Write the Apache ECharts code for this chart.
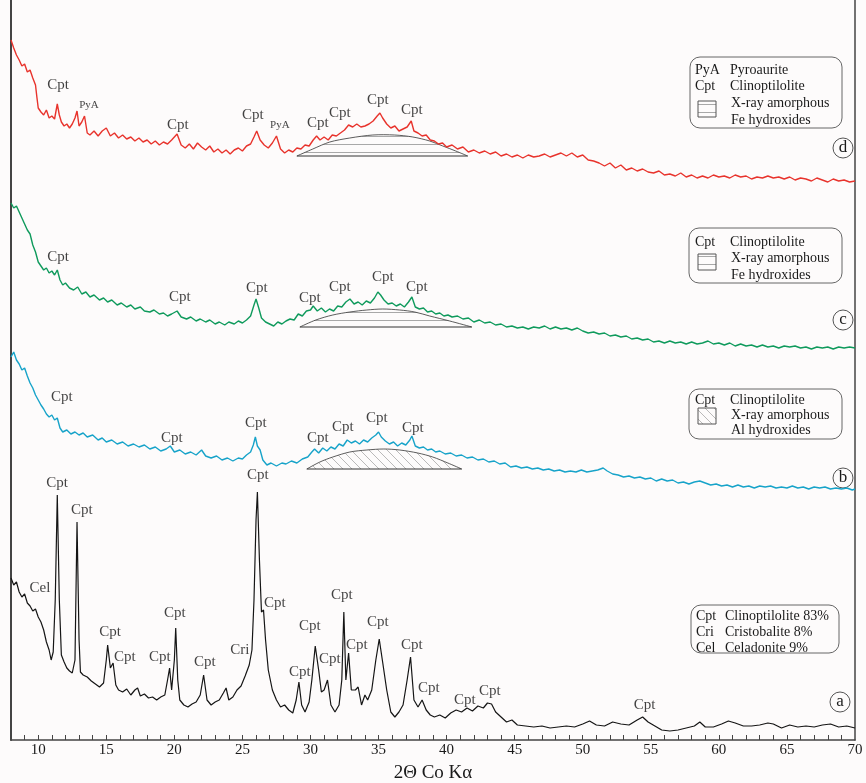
<!DOCTYPE html>
<html><head><meta charset="utf-8">
<script src="https://cdn.jsdelivr.net/npm/echarts@6/dist/echarts.min.js"></script>
<style>html,body{margin:0;padding:0;background:#fdfbfb}#c{width:866px;height:783px}</style>
</head><body><div id="c"></div>
<script>
// ---- Data (2θ, intensity in arbitrary stacked units) ----
const xTickLabels = [10,15,20,25,30,35,40,45,50,55,60,65,70];
const xTickMarks = [9,10,11,12,13,14,15,16,17,18,19,20,21,22,23,24,25,26,27,28,29,30,31,32,33,34,35,36,37,38,39,40,41,42,43,44,45,46,47,48,49,50,51,52,53,54,55,56,57,58,59,60,61,62,63,64,65,66,67,68,69];

// (a) original zeolite – black
const traceA = [[8.0,162],[8.2,155],[8.4,158],[8.6,148],[8.8,143],[9.0,146],[9.2,137],[9.4,134],[9.6,129],[9.8,131],[10.0,123],[10.2,118],[10.4,110],[10.6,98],[10.8,90],[10.95,80],[11.1,88],[11.25,140],[11.4,245],[11.55,140],[11.7,85],[11.9,78],[12.1,72],[12.3,69],[12.5,67],[12.7,80],[12.85,218],[13.0,100],[13.1,68],[13.3,65],[13.6,63],[13.9,59],[14.2,56],[14.5,53],[14.8,57],[15.0,80],[15.1,95],[15.3,72],[15.5,77],[15.7,55],[15.9,50],[16.2,48],[16.5,51],[16.8,45],[17.1,50],[17.3,52],[17.5,44],[17.8,46],[18.1,42],[18.4,43],[18.7,40],[19.0,43],[19.3,45],[19.5,60],[19.65,72],[19.8,50],[20.0,80],[20.1,112],[20.25,60],[20.4,40],[20.7,35],[21.0,33],[21.3,36],[21.6,38],[21.9,45],[22.15,65],[22.4,40],[22.7,35],[23.0,38],[23.3,40],[23.6,47],[23.8,52],[24.0,40],[24.3,43],[24.6,50],[24.9,54],[25.2,64],[25.5,75],[25.7,90],[25.85,140],[26.0,220],[26.1,248],[26.25,180],[26.4,128],[26.55,130],[26.7,100],[26.9,70],[27.2,50],[27.5,40],[27.8,33],[28.1,35],[28.4,30],[28.7,27],[28.95,40],[29.15,58],[29.35,35],[29.6,28],[29.9,38],[30.1,60],[30.35,94],[30.6,70],[30.8,48],[31.0,50],[31.25,60],[31.5,35],[31.8,28],[32.1,35],[32.3,60],[32.45,128],[32.6,60],[32.8,87],[33.0,50],[33.3,50],[33.5,53],[33.75,35],[34.0,45],[34.2,40],[34.5,50],[34.8,80],[35.05,101],[35.3,78],[35.6,50],[35.9,28],[36.2,23],[36.5,28],[36.8,35],[37.1,60],[37.35,83],[37.6,40],[37.9,33],[38.2,40],[38.5,30],[38.8,25],[39.1,23],[39.5,25],[39.9,22],[40.3,27],[40.7,30],[41.1,28],[41.5,32],[41.9,29],[42.3,34],[42.7,32],[43.0,37],[43.3,36],[43.6,28],[44.0,23],[44.4,18],[44.8,20],[45.2,15],[45.8,14],[46.4,13],[47.0,14],[47.6,12],[48.2,13],[48.8,14],[49.4,13],[50.0,16],[50.5,19],[51.0,15],[51.6,14],[52.2,18],[52.8,16],[53.4,15],[54.0,20],[54.4,23],[54.8,18],[55.3,14],[55.8,10],[56.4,9],[57.0,10],[57.6,12],[58.2,14],[58.6,18],[59.0,13],[59.6,13],[60.2,16],[60.7,19],[61.2,17],[61.8,14],[62.4,14],[63.0,15],[63.6,17],[64.0,16],[64.6,12],[65.2,15],[65.8,13],[66.4,14],[67.0,13],[67.6,15],[68.2,16],[68.8,13],[69.4,14],[70.0,12]];

// (b) cyan
const traceB = [[8.0,383],[8.2,388],[8.4,380],[8.6,376],[8.8,370],[9.0,372],[9.2,364],[9.4,357],[9.6,352],[9.8,345],[10.0,340],[10.2,335],[10.4,331],[10.6,326],[10.8,323],[11.0,325],[11.2,320],[11.4,322],[11.6,312],[11.8,308],[12.1,310],[12.4,306],[12.7,308],[13.0,305],[13.3,307],[13.6,303],[14.0,305],[14.4,300],[14.7,302],[15.0,298],[15.4,300],[15.8,296],[16.2,298],[16.6,294],[17.0,296],[17.4,293],[17.8,295],[18.2,291],[18.6,293],[19.0,289],[19.4,291],[19.7,294],[20.0,288],[20.4,290],[20.8,286],[21.2,288],[21.6,285],[22.0,290],[22.3,284],[22.7,282],[23.1,284],[23.5,280],[23.9,282],[24.3,279],[24.7,282],[25.0,281],[25.3,285],[25.6,288],[25.8,295],[25.95,303],[26.1,294],[26.3,290],[26.5,280],[26.8,275],[27.1,277],[27.5,274],[27.9,277],[28.2,276],[28.6,279],[29.0,277],[29.4,281],[29.8,283],[30.1,288],[30.3,291],[30.6,287],[30.9,292],[31.2,289],[31.5,293],[31.8,291],[32.1,296],[32.4,294],[32.7,300],[33.0,297],[33.3,299],[33.6,296],[33.9,300],[34.2,298],[34.5,302],[34.8,305],[35.0,308],[35.2,303],[35.5,299],[35.8,296],[36.1,298],[36.4,294],[36.7,297],[37.0,295],[37.3,300],[37.45,304],[37.7,294],[38.0,292],[38.3,293],[38.6,290],[38.9,291],[39.2,288],[39.5,289],[39.9,286],[40.3,287],[40.7,284],[41.1,285],[41.5,282],[41.9,283],[42.3,280],[42.7,281],[43.1,278],[43.5,279],[43.9,276],[44.3,277],[44.7,273],[45.1,274],[45.5,272],[45.9,273],[46.3,271],[46.7,272],[47.1,270],[47.5,271],[47.9,269],[48.3,270],[48.7,268],[49.1,269],[49.5,268],[49.9,270],[50.3,268],[50.7,269],[51.1,270],[51.5,272],[51.8,269],[52.2,266],[52.6,265],[53.0,263],[53.4,264],[53.8,262],[54.2,263],[54.6,261],[55.0,262],[55.4,259],[55.8,261],[56.2,259],[56.6,260],[57.0,257],[57.4,258],[57.8,256],[58.2,258],[58.6,259],[59.0,257],[59.4,255],[59.8,256],[60.2,254],[60.6,255],[61.0,253],[61.4,255],[61.8,253],[62.2,254],[62.6,252],[63.0,254],[63.4,253],[63.8,254],[64.2,252],[64.6,253],[65.0,252],[65.4,254],[65.8,252],[66.2,253],[66.6,251],[67.0,253],[67.4,252],[67.8,253],[68.2,251],[68.6,252],[69.0,251],[69.4,252],[69.8,250],[70.0,251]];

// (c) green
const traceC = [[8.0,537],[8.2,532],[8.4,534],[8.6,528],[8.8,522],[9.0,516],[9.2,510],[9.4,506],[9.6,495],[9.8,488],[10.0,478],[10.2,474],[10.4,470],[10.6,472],[10.8,467],[11.0,469],[11.2,465],[11.4,470],[11.6,460],[11.8,455],[12.0,457],[12.3,452],[12.6,450],[12.9,453],[13.2,446],[13.5,448],[13.8,443],[14.1,445],[14.5,440],[14.8,442],[15.1,438],[15.4,440],[15.8,435],[16.1,437],[16.5,433],[16.8,435],[17.1,431],[17.5,433],[17.8,429],[18.2,428],[18.5,430],[18.9,426],[19.2,427],[19.5,424],[19.8,426],[20.2,429],[20.5,423],[20.9,421],[21.2,423],[21.6,419],[21.9,421],[22.3,418],[22.6,420],[23.0,416],[23.3,418],[23.7,415],[24.0,418],[24.4,416],[24.7,419],[25.0,417],[25.3,420],[25.6,424],[25.85,435],[26.0,441],[26.2,432],[26.4,422],[26.7,418],[27.0,416],[27.3,414],[27.6,418],[27.9,416],[28.2,419],[28.5,421],[28.8,420],[29.1,426],[29.4,424],[29.7,429],[30.0,430],[30.2,434],[30.5,429],[30.8,432],[31.1,428],[31.4,431],[31.7,429],[32.0,434],[32.3,433],[32.6,438],[32.9,441],[33.2,436],[33.5,438],[33.8,435],[34.1,439],[34.4,437],[34.7,442],[34.95,448],[35.15,445],[35.4,440],[35.7,436],[36.0,437],[36.3,434],[36.6,436],[36.9,433],[37.2,438],[37.45,443],[37.7,433],[38.0,431],[38.3,432],[38.6,428],[38.9,429],[39.2,426],[39.5,427],[39.8,424],[40.1,425],[40.4,423],[40.8,424],[41.2,421],[41.6,422],[42.0,418],[42.4,420],[42.8,417],[43.2,418],[43.6,415],[44.0,416],[44.4,413],[44.8,414],[45.2,412],[45.6,413],[46.0,411],[46.4,413],[46.8,412],[47.2,414],[47.6,411],[48.0,413],[48.4,411],[48.8,412],[49.2,410],[49.6,412],[50.0,409],[50.4,407],[50.8,408],[51.2,406],[51.6,407],[52.0,404],[52.4,405],[52.8,403],[53.2,404],[53.6,401],[54.0,402],[54.4,400],[54.8,401],[55.2,398],[55.6,399],[56.0,397],[56.4,399],[56.8,397],[57.2,398],[57.6,396],[58.0,398],[58.4,396],[58.8,397],[59.2,399],[59.6,396],[60.0,397],[60.4,395],[60.8,397],[61.2,394],[61.6,396],[62.0,394],[62.4,395],[62.8,393],[63.2,395],[63.6,393],[64.0,394],[64.4,392],[64.8,394],[65.2,393],[65.6,394],[66.0,392],[66.4,393],[66.8,391],[67.2,393],[67.6,392],[68.0,393],[68.4,391],[68.8,393],[69.2,392],[69.6,393],[70.0,392]];

// (d) red
const traceD = [[8.0,700],[8.2,692],[8.4,685],[8.6,680],[8.8,674],[9.0,676],[9.2,668],[9.4,670],[9.6,662],[9.8,655],[9.9,643],[10.0,632],[10.2,628],[10.4,625],[10.6,630],[10.8,622],[11.0,624],[11.2,621],[11.4,636],[11.55,625],[11.7,618],[11.9,614],[12.1,616],[12.3,612],[12.5,616],[12.7,622],[12.85,629],[13.0,614],[13.2,618],[13.4,624],[13.6,607],[13.8,605],[14.1,609],[14.4,604],[14.7,609],[15.0,612],[15.3,604],[15.6,607],[15.9,602],[16.2,605],[16.5,601],[16.8,603],[17.1,599],[17.4,602],[17.7,598],[18.0,600],[18.3,596],[18.6,599],[18.9,595],[19.2,598],[19.5,596],[19.8,600],[20.2,606],[20.5,595],[20.8,592],[21.1,596],[21.4,591],[21.7,597],[22.0,593],[22.3,590],[22.6,594],[22.9,588],[23.2,591],[23.5,587],[23.8,590],[24.1,586],[24.4,590],[24.7,592],[25.0,589],[25.3,594],[25.6,596],[25.85,603],[26.05,609],[26.3,600],[26.6,595],[26.9,592],[27.2,597],[27.5,604],[27.8,591],[28.1,587],[28.4,590],[28.7,588],[29.0,592],[29.3,591],[29.6,595],[29.9,594],[30.2,600],[30.45,604],[30.7,600],[31.0,603],[31.3,600],[31.6,605],[31.9,604],[32.2,607],[32.5,610],[32.8,615],[33.1,613],[33.4,616],[33.7,613],[34.0,614],[34.3,616],[34.6,619],[34.9,624],[35.1,627],[35.3,622],[35.6,616],[35.9,612],[36.2,614],[36.5,609],[36.8,611],[37.1,613],[37.4,619],[37.6,609],[37.9,607],[38.2,604],[38.5,605],[38.8,600],[39.1,599],[39.4,596],[39.7,597],[40.0,593],[40.4,595],[40.8,591],[41.2,593],[41.6,588],[42.0,590],[42.4,587],[42.8,589],[43.2,586],[43.6,588],[44.0,584],[44.4,586],[44.8,583],[45.2,585],[45.6,582],[46.0,585],[46.4,583],[46.8,584],[47.2,586],[47.6,583],[48.0,585],[48.4,587],[48.8,584],[49.2,587],[49.6,583],[50.0,585],[50.4,580],[50.8,579],[51.2,577],[51.6,574],[52.0,577],[52.4,572],[52.8,575],[53.2,570],[53.6,572],[54.0,569],[54.4,571],[54.8,568],[55.2,567],[55.6,569],[56.0,565],[56.4,566],[56.8,564],[57.2,567],[57.6,563],[58.0,565],[58.4,562],[58.8,564],[59.2,562],[59.6,565],[60.0,563],[60.4,564],[60.8,562],[61.2,565],[61.6,563],[62.0,564],[62.4,561],[62.8,563],[63.2,562],[63.6,564],[64.0,562],[64.4,563],[64.8,561],[65.2,563],[65.6,560],[66.0,562],[66.4,561],[66.8,559],[67.2,562],[67.6,560],[68.0,558],[68.4,561],[68.8,559],[69.2,560],[69.6,558],[70.0,559]];

// X-ray amorphous humps (outline points, first/last on their baseline)
const humpD = [[29.0,584],[30.17,591],[31.42,598],[32.89,602],[34.58,605],[36.19,605],[37.52,603],[38.76,599],[39.72,594],[40.67,589],[41.55,584]];
const humpC = [[29.22,413],[30.39,420],[31.64,425],[32.89,428],[34.14,430],[35.31,431],[36.56,430],[37.66,428],[38.76,424],[40.23,419],[41.85,413]];
const humpB = [[29.73,271],[30.69,278],[31.64,283],[32.89,288],[34.14,290],[35.39,291],[36.56,290],[37.88,287],[38.98,283],[40.09,277],[41.11,271]];

// peak annotations [2θ, intensity, text]
const labelsA = [[10.13,152,'Cel'],[11.38,257,'Cpt'],[13.21,230,'Cpt'],[15.27,108,'Cpt'],[16.37,83,'Cpt'],[18.94,83,'Cpt'],[20.04,127,'Cpt'],[22.24,78,'Cpt'],[24.81,90,'Cri'],[26.13,265,'Cpt'],[27.38,137,'Cpt'],[29.22,68,'Cpt'],[29.95,114,'Cpt'],[31.42,81,'Cpt'],[32.3,145,'Cpt'],[33.4,95,'Cpt'],[34.95,118,'Cpt'],[37.44,95,'Cpt'],[38.69,52,'Cpt'],[41.33,40,'Cpt'],[43.17,49,'Cpt'],[54.55,35,'Cpt']];
const labelsB = [[11.74,343,'Cpt'],[19.82,302,'Cpt'],[25.99,317,'Cpt'],[30.54,302,'Cpt'],[32.38,313,'Cpt'],[34.87,322,'Cpt'],[37.51,312,'Cpt']];
const labelsC = [[11.45,483,'Cpt'],[20.41,443,'Cpt'],[26.06,452,'Cpt'],[29.95,442,'Cpt'],[32.16,453,'Cpt'],[35.31,463,'Cpt'],[37.81,453,'Cpt']];
const labelsD = [[11.45,655,'Cpt'],[13.73,635,'PyA'],[20.26,615,'Cpt'],[25.77,625,'Cpt'],[27.75,615,'PyA'],[30.54,617,'Cpt'],[32.16,627,'Cpt'],[34.95,640,'Cpt'],[37.44,630,'Cpt']];

// ---- Styling ----
const FONT = '"Liberation Serif","DejaVu Serif",serif';
const COL = {a:'#151515', b:'#17a3c9', c:'#0f9a5c', d:'#e8332c'};

function hPattern(){const c=document.createElement('canvas');c.width=10;c.height=8;const g=c.getContext('2d');g.strokeStyle='#a8a8a8';g.lineWidth=1;g.beginPath();g.moveTo(0,0.5);g.lineTo(10,0.5);g.stroke();return c;}
function dPattern(){const c=document.createElement('canvas');c.width=9;c.height=9;const g=c.getContext('2d');g.strokeStyle='#a8a8a8';g.lineWidth=0.8;g.beginPath();g.moveTo(0,0);g.lineTo(9,9);g.moveTo(-1,8);g.lineTo(1,10);g.moveTo(8,-1);g.lineTo(10,1);g.stroke();return c;}
const patH = hPattern(), patD = dPattern();

function traceSeries(data,color,w){return {type:'line',data:data,showSymbol:false,symbol:'none',sampling:'none',animation:false,z:3,lineStyle:{color:color,width:w}};}
function humpSeries(pts,pat){return {type:'custom',data:[pts[0]],z:2,animation:false,silent:true,
  renderItem:function(params,api){const p=pts.map(q=>api.coord(q));const last=p[p.length-1];
    return {type:'group',children:[
      {type:'polygon',shape:{points:p},style:{fill:{image:pat,repeat:'repeat'},stroke:null}},
      {type:'polyline',shape:{points:p,smooth:0.3},style:{stroke:'#333',lineWidth:0.8,fill:null}},
      {type:'line',shape:{x1:p[0][0],y1:p[0][1],x2:last[0],y2:last[1]},style:{stroke:'#333',lineWidth:1}}]};}};}
function labelSeries(list){return {type:'scatter',symbolSize:1,z:5,animation:false,silent:true,itemStyle:{color:'rgba(0,0,0,0)'},
  data:list.map(l=>({value:[l[0],l[1]],name:l[2],label:{show:true,position:'inside',formatter:l[2],fontFamily:FONT,fontSize:l[2]==='PyA'?11:15,color:'#111'}}))};}

function txt(x,y,s,size){return {type:'text',x:x,y:y,style:{text:s,fontFamily:FONT,fontSize:size||14,fill:'#1a1a1a',textVerticalAlign:'middle'}};}
function box(x,y,w,h){return {type:'rect',shape:{x:x,y:y,width:w,height:h,r:10},style:{fill:'none',stroke:'#666',lineWidth:1}};}
function swatch(x,y,pat){return {type:'rect',shape:{x:x,y:y,width:18,height:16},style:{fill:{image:pat,repeat:'repeat'},stroke:'#555',lineWidth:1}};}
function circ(x,y,s){return [{type:'circle',shape:{cx:x,cy:y,r:10},style:{fill:'none',stroke:'#555',lineWidth:1}},
  {type:'text',x:x,y:y,style:{text:s,fontFamily:FONT,fontSize:17,fill:'#1a1a1a',textAlign:'center',textVerticalAlign:'middle'}}];}

const graphics = [
  box(690,57,152,71), txt(695,70,'PyA'), txt(730,70,'Pyroaurite'), txt(695,86,'Cpt'), txt(730,86,'Clinoptilolite'),
  swatch(698,101,patH), txt(731,103,'X-ray amorphous'), txt(731,120,'Fe hydroxides'),
  box(689,228,153,55), txt(695,242,'Cpt'), txt(730,242,'Clinoptilolite'), swatch(698,254,patH), txt(731,258,'X-ray amorphous'), txt(731,275,'Fe hydroxides'),
  box(689,389,153,50), txt(695,400,'Cpt'), txt(730,400,'Clinoptilolite'), swatch(698,408,patD), txt(731,415,'X-ray amorphous'), txt(731,430,'Al hydroxides'),
  box(691,605,148,48), txt(696,616,'Cpt'), txt(725,616,'Clinoptilolite 83%'), txt(696,632,'Cri'), txt(725,632,'Cristobalite 8%'), txt(696,648,'Cel'), txt(725,648,'Celadonite 9%')
].concat(circ(843,148,'d'),circ(843,320,'c'),circ(843,478,'b'),circ(840,702,'a'));

const chart = echarts.init(document.getElementById('c'),null,{renderer:'canvas'});
chart.setOption({
  backgroundColor:'#fdfbfb', animation:false,
  grid:{left:11,right:11,top:0,bottom:43,containLabel:false,outerBoundsMode:'none'},
  xAxis:{type:'value',min:8,max:70,
    name:'2Θ Co Kα',nameLocation:'middle',nameGap:24,nameTextStyle:{fontFamily:FONT,fontSize:19,color:'#1a1a1a'},
    axisLine:{show:true,lineStyle:{color:'#444',width:1.5}},
    axisTick:{show:true,inside:true,length:5,customValues:xTickMarks,lineStyle:{color:'#444'}},
    axisLabel:{customValues:xTickLabels,margin:3,fontFamily:FONT,fontSize:15,color:'#1a1a1a'},
    splitLine:{show:false}},
  yAxis:[{type:'value',min:0,max:740,position:'left',axisLine:{show:true,lineStyle:{color:'#444',width:2}},axisTick:{show:false},axisLabel:{show:false},splitLine:{show:false}},
         {type:'value',min:0,max:740,position:'right',axisLine:{show:true,lineStyle:{color:'#444',width:1.5}},axisTick:{show:false},axisLabel:{show:false},splitLine:{show:false}}],
  graphic:graphics,
  series:[
    humpSeries(humpD,patH), humpSeries(humpC,patH), humpSeries(humpB,patD),
    traceSeries(traceA,COL.a,1.2), traceSeries(traceB,COL.b,1.4), traceSeries(traceC,COL.c,1.4), traceSeries(traceD,COL.d,1.4),
    labelSeries(labelsA), labelSeries(labelsB), labelSeries(labelsC), labelSeries(labelsD)
  ]
});
</script></body></html>
